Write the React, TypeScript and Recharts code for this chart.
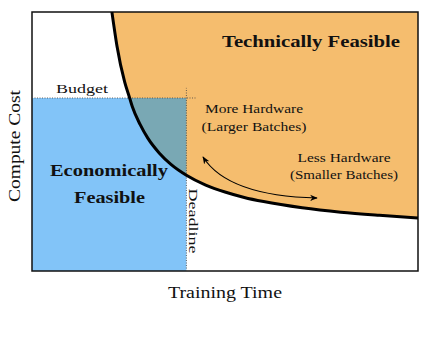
import React from "react";
import {
  ComposedChart,
  Area,
  Line,
  XAxis,
  YAxis,
  ReferenceLine,
  ReferenceArea,
} from "recharts";

// normalised axes: training time (x) and compute cost (y), both 0..1
const trainingTime = [0, 0.207, 0.22, 0.24, 0.253, 0.26, 0.28, 0.3, 0.33, 0.36, 0.4, 0.45, 0.5, 0.55, 0.6, 0.7, 0.8, 0.9, 1.0];
const computeCost = [null, 1.0, 0.87, 0.73, 0.668, 0.634, 0.566, 0.513, 0.455, 0.412, 0.37, 0.332, 0.305, 0.284, 0.268, 0.244, 0.227, 0.215, 0.205];
const budget = 0.668;
const deadline = 0.4;
const costMax = 1;

const ORANGE = "#F5BD6E";
const BLUE = "#82C4F8";
const TEAL = "#79A8B4";

const data = trainingTime.map((t, i) => {
  const c = computeCost[i];
  return {
    t,
    cost: c,
    tech: c == null ? undefined : [c, costMax],
    econ: t <= deadline ? [0, budget] : undefined,
    overlap: c != null && c <= budget && t <= deadline ? [c, budget] : undefined,
  };
});

const serif = "'Liberation Serif', 'DejaVu Serif', serif";

export default function App() {
  return (
    <div style={{ position: "absolute", left: 0, top: 0, width: 430, height: 342, background: "#fff" }}>
      <ComposedChart
        width={430}
        height={342}
        data={data}
        margin={{ top: 12, right: 12, bottom: 71, left: 32 }}
      >
        <XAxis dataKey="t" type="number" domain={[0, 1]} hide />
        <YAxis type="number" domain={[0, 1]} hide allowDataOverflow />
        <Area
          dataKey="econ"
          type="linear"
          stroke="none"
          fill={BLUE}
          fillOpacity={1}
          isAnimationActive={false}
        />
        <Area
          dataKey="tech"
          type="linear"
          stroke="none"
          fill={ORANGE}
          fillOpacity={1}
          isAnimationActive={false}
        />
        <Area
          dataKey="overlap"
          type="linear"
          stroke="none"
          fill={TEAL}
          fillOpacity={1}
          isAnimationActive={false}
        />
        <ReferenceLine
          segment={[{ x: 0, y: budget }, { x: 0.425, y: budget }]}
          stroke="#444"
          strokeDasharray="1 1.5"
          strokeWidth={0.8}
        />
        <ReferenceLine
          segment={[{ x: deadline, y: 0 }, { x: deadline, y: 0.707 }]}
          stroke="#444"
          strokeDasharray="1 1.5"
          strokeWidth={0.8}
        />
        <Line
          dataKey="cost"
          type="monotone"
          stroke="#000"
          strokeWidth={3}
          dot={false}
          isAnimationActive={false}
        />
        <ReferenceArea x1={0} x2={1} y1={0} y2={1} fill="none" stroke="#111" strokeWidth={1.5} />
      </ComposedChart>
      <svg
        width={430}
        height={342}
        style={{ position: "absolute", left: 0, top: 0, pointerEvents: "none" }}
        fontFamily={serif}
        fill="#111"
      >
        <defs>
          <marker id="ah" viewBox="0 0 10 10" refX="9" refY="5" markerWidth="7" markerHeight="7" orient="auto-start-reverse">
            <path d="M0,1 L10,5 L0,9 L3,5 Z" fill="#000" />
          </marker>
        </defs>
        <text x={311} y={47} fontSize={17} fontWeight="bold" textAnchor="middle" textLength={178} lengthAdjust="spacingAndGlyphs">
          Technically Feasible
        </text>
        <text x={82} y={93} fontSize={13} textAnchor="middle" textLength={52} lengthAdjust="spacingAndGlyphs">
          Budget
        </text>
        <text x={254} y={113} fontSize={12.5} textAnchor="middle" textLength={98} lengthAdjust="spacingAndGlyphs">
          More Hardware
        </text>
        <text x={254} y={131} fontSize={12.5} textAnchor="middle" textLength={105} lengthAdjust="spacingAndGlyphs">
          (Larger Batches)
        </text>
        <text x={344} y={162} fontSize={12.5} textAnchor="middle" textLength={93} lengthAdjust="spacingAndGlyphs">
          Less Hardware
        </text>
        <text x={344} y={179} fontSize={12.5} textAnchor="middle" textLength={108} lengthAdjust="spacingAndGlyphs">
          (Smaller Batches)
        </text>
        <text x={109} y={176} fontSize={17} fontWeight="bold" textAnchor="middle" textLength={118} lengthAdjust="spacingAndGlyphs">
          Economically
        </text>
        <text x={109.5} y={203} fontSize={17} fontWeight="bold" textAnchor="middle" textLength={71} lengthAdjust="spacingAndGlyphs">
          Feasible
        </text>
        <text x={189} y={221} fontSize={13} textAnchor="middle" textLength={65} lengthAdjust="spacingAndGlyphs" transform="rotate(90 189 221)">
          Deadline
        </text>
        <text x={20} y={146} fontSize={16} textAnchor="middle" textLength={112} lengthAdjust="spacingAndGlyphs" transform="rotate(-90 20 146)">
          Compute Cost
        </text>
        <text x={225} y={298} fontSize={16} textAnchor="middle" textLength={114} lengthAdjust="spacingAndGlyphs">
          Training Time
        </text>
        <path
          d="M203,157 Q228,196 317,198"
          fill="none"
          stroke="#000"
          strokeWidth={1.1}
          markerStart="url(#ah)"
          markerEnd="url(#ah)"
        />
      </svg>
    </div>
  );
}
